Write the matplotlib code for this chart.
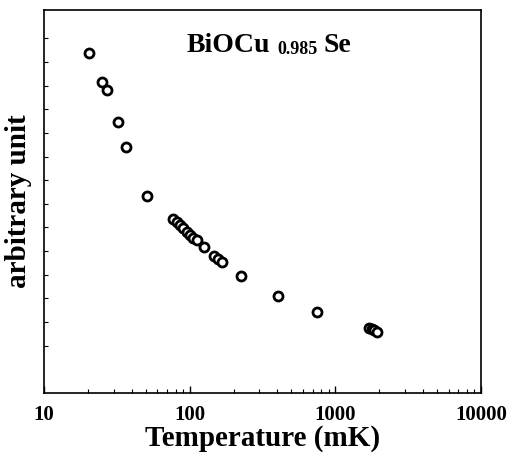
import matplotlib
matplotlib.use("Agg")
import matplotlib.pyplot as plt
from matplotlib.ticker import FixedLocator, LogLocator, NullFormatter, FixedFormatter

temperature_mK = [20.4, 24.9, 26.9, 32.4, 36.4, 50.7,
                  77.2, 81.4, 85.8, 90.4, 95.3, 100.5, 105.9, 111.6,
                  126, 147.5, 155.7, 166.6, 224, 402, 748,
                  1701, 1775, 1849, 1940]
signal = [14.39, 13.14, 12.80, 11.46, 10.41, 8.34,
          7.34, 7.22, 7.09, 6.96, 6.82, 6.68, 6.57, 6.47,
          6.16, 5.81, 5.65, 5.54, 4.96, 4.09, 3.44,
          2.74, 2.69, 2.65, 2.60]
x_ticks = [10, 100, 1000, 10000]
x_ticklabels = ["10", "100", "1000", "10000"]
y_ticks = list(range(2, 16))

plt.rcParams['font.family'] = ['Liberation Serif', 'DejaVu Serif']

fig = plt.figure(figsize=(5.07, 4.53), dpi=100)
ax = fig.add_axes([0.0868, 0.1325, 0.8619, 0.8455])

ax.plot(temperature_mK, signal, linestyle='none', marker='o', ms=6.5,
        mfc='white', mec='black', mew=2.0)

ax.set_xscale('log')
ax.set_xlim(10, 10000)
ax.set_ylim(0, 16.2)

ax.xaxis.set_major_locator(FixedLocator(x_ticks))
ax.xaxis.set_major_formatter(FixedFormatter(x_ticklabels))
ax.xaxis.set_minor_locator(LogLocator(base=10, subs=range(2, 10)))
ax.xaxis.set_minor_formatter(NullFormatter())
ax.yaxis.set_major_locator(FixedLocator(y_ticks))
ax.set_yticklabels([])

ax.tick_params(axis='x', which='major', direction='in', length=5, width=1,
               labelsize=15, pad=9)
ax.tick_params(axis='x', which='minor', direction='in', length=3, width=0.8)
ax.tick_params(axis='y', which='major', direction='in', length=3, width=0.8)
for lbl in ax.get_xticklabels():
    lbl.set_fontweight('bold')

for s in ax.spines.values():
    s.set_linewidth(1.2)

ax.set_xlabel('Temperature (mK)', fontsize=21, fontweight='bold', labelpad=0)
ax.set_ylabel('arbitrary unit', fontsize=21, fontweight='bold', labelpad=5)

t1 = ax.text(0.327, 0.891, 'BiOCu', transform=ax.transAxes, fontsize=20,
             fontweight='bold', ha='left', va='baseline')
t2 = ax.annotate('0.985', xy=(1, 0), xycoords=t1, xytext=(5, 0),
                 textcoords='offset points', fontsize=13, fontweight='bold',
                 ha='left', va='bottom')
t3 = ax.annotate('Se', xy=(1, 0), xycoords=t2, xytext=(4, 0),
                 textcoords='offset points', fontsize=20, fontweight='bold',
                 ha='left', va='bottom')

fig.savefig('out.png', dpi=100)
